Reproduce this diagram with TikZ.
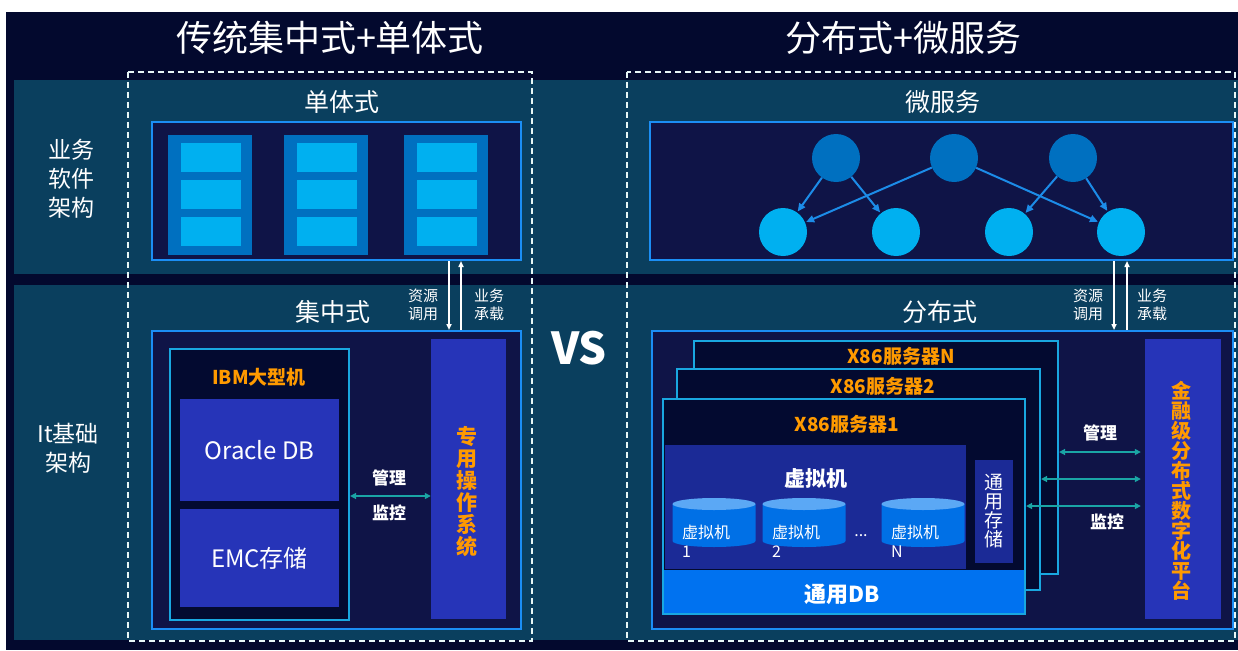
\documentclass[tikz,border=0pt]{standalone}
\usepackage{fontspec}
\usepackage{xcolor}
\usepackage{tikz}
\usetikzlibrary{arrows.meta}
\newfontfamily\cjk{Noto Sans CJK SC}

\definecolor{bgnavy}{HTML}{03092E}
\definecolor{band}{HTML}{0A3F5E}
\definecolor{panel}{HTML}{0F1447}
\definecolor{edge}{HTML}{1B8EF5}
\definecolor{edgecyan}{HTML}{19A7E0}
\definecolor{hostfill}{HTML}{030A30}
\definecolor{deepblue}{HTML}{0070C0}
\definecolor{skyblue}{HTML}{00B0F0}
\definecolor{indigo}{HTML}{2634B8}
\definecolor{orangetxt}{HTML}{FF9A00}
\definecolor{tealarrow}{HTML}{1AA5A5}
\definecolor{linkblue}{HTML}{1C8CE8}
\definecolor{vmarea}{HTML}{1B2A96}
\definecolor{dbblue}{HTML}{0072F0}
\definecolor{cylbody}{HTML}{0070E6}
\definecolor{cyltop}{HTML}{5BA8F5}
\definecolor{dashline}{HTML}{E6F6F6}

\tikzset{
  every node/.style={text=white, inner sep=0pt, font=\cjk},
  fs/.style 2 args={font=\cjk\fontsize{#1}{#2}\selectfont},
  fsb/.style 2 args={font=\cjk\bfseries\fontsize{#1}{#2}\selectfont},
  title/.style={fs={36}{40}},
  head/.style={fs={25}{28}},
  side/.style={fs={23}{29}, align=center},
  tiny/.style={fs={15}{18}, align=center},
  orangebold/.style={fsb={19}{22}, text=orangetxt, align=center},
  panelbox/.style={draw=edge, line width=2pt, fill=panel},
  hostbox/.style={draw=edgecyan, line width=2.2pt, fill=hostfill},
  slab/.style={fill=indigo},
  svc/.style={circle, minimum size=48pt},
  frame/.style={draw=dashline, line width=1.6pt, dash pattern=on 6pt off 4pt},
  flow/.style={draw=white, line width=1.6pt, -{Triangle[length=6pt,width=5pt]}},
  ctl/.style={draw=tealarrow, line width=1.8pt, {Triangle[length=6pt,width=6pt]}-{Triangle[length=6pt,width=6pt]}},
  link/.style={draw=linkblue, line width=2pt, -{Triangle[length=8pt,width=7pt]}, shorten >=1pt}
}

\begin{document}
\begin{tikzpicture}[x=1pt,y=-1pt]
\useasboundingbox (0,0) rectangle (1238,650);
\fill[white] (0,0) rectangle (1238,650);
\fill[bgnavy] (6,12) rectangle (1238,650);
\fill[band] (14,80) rectangle (1238,274);
\fill[band] (14,285) rectangle (1238,640);
\draw[frame] (128,72) rectangle (532,641);
\draw[frame] (627,72) rectangle (1235,641);

\node[title] (tradTitle) at (330,38) {传统集中式+单体式};
\node[title] (distTitle) at (903,38) {分布式+微服务};
\node[side] (swLabel) at (71,179) {业务\\软件\\架构};
\node[side] (itLabel) at (68,448) {It基础\\架构};

\node[head] (monoHead) at (342,102) {单体式};
\node[panelbox, minimum width=369, minimum height=138] (mono) at (336.5,191) {};
\foreach \cx [count=\i] in {210,326,446}{
  \node[fill=deepblue, minimum width=84, minimum height=120] (col\i) at (\cx,195) {};
  \foreach \cy [count=\j] in {157,194.5,231}
    \node[fill=skyblue, minimum width=60, minimum height=29] (cell\i\j) at (\cx+1,\cy) {};
}

\node[head] (centHead) at (333,312) {集中式};
\node[tiny] (callTxtL) at (423,305) {资源\\调用};
\node[tiny] (loadTxtL) at (489,305) {业务\\承载};
\node[panelbox, minimum width=369, minimum height=298] (central) at (336.5,480) {};
\coordinate (callL) at (449,0);
\coordinate (loadL) at (461,0);
\draw[flow] (mono.south -| callL) -- (central.north -| callL);
\draw[flow] (central.north -| loadL) -- (mono.south -| loadL);

\node[hostbox, minimum width=179, minimum height=271] (ibm) at (259.5,484.5) {};
\node[orangebold] (ibmHead) at (259,377) {IBM大型机};
\node[slab, minimum width=159, minimum height=102, fs={24}{28}] (oracle) at (259.5,450) {Oracle DB};
\node[slab, minimum width=159, minimum height=98, fs={24}{28}] (emc) at (259.5,558) {EMC存储};
\node[slab, minimum width=75, minimum height=280] (os) at (468.5,479) {};
\node[orangebold, fsb={21}{22}] (osText) at (467,492) {专\\用\\操\\作\\系\\统};
\coordinate (ctlRow) at (0,496);
\draw[ctl] (ibm.east |- ctlRow) -- (os.west |- ctlRow);
\node[fsb={17}{20}] (mgrL) at (389,478) {管理};
\node[fsb={17}{20}] (monL) at (389,513) {监控};
\node[fsb={44}{48}] (vs) at (579,348) {VS};

\node[head] (msHead) at (943,102) {微服务};
\node[panelbox, minimum width=583, minimum height=138] (micro) at (941.5,191) {};
\foreach \cx [count=\i] in {836,954,1073}
  \node[svc, fill=deepblue] (up\i) at (\cx,158) {};
\foreach \cx [count=\i] in {783,896,1009,1121}
  \node[svc, fill=skyblue] (dn\i) at (\cx,232) {};
\foreach \a/\b in {1/1,1/2,2/1,2/4,3/3,3/4}
  \draw[link] (up\a) -- (dn\b);

\node[head] (distHead) at (940,312) {分布式};
\node[tiny] (callTxtR) at (1088,305) {资源\\调用};
\node[tiny] (loadTxtR) at (1152,305) {业务\\承载};
\node[panelbox, minimum width=581, minimum height=298] (dist) at (942.5,480) {};
\coordinate (callR) at (1114,0);
\coordinate (loadR) at (1127,0);
\draw[flow] (micro.south -| callR) -- (dist.north -| callR);
\draw[flow] (dist.north -| loadR) -- (micro.south -| loadR);

\node[hostbox, minimum width=364, minimum height=233] (servN) at (876,457.5) {};
\node[orangebold] (servNHead) at (901,356) {X86服务器N};
\node[hostbox, minimum width=363, minimum height=221] (serv2) at (858.5,479.5) {};
\node[orangebold] (serv2Head) at (883,386) {X86服务器2};
\node[hostbox, minimum width=362, minimum height=215] (serv1) at (844,506.5) {};
\node[orangebold] (serv1Head) at (847,424) {X86服务器1};
\node[fill=vmarea, minimum width=301, minimum height=124] (vms) at (815.5,507) {};
\node[fsb={21}{24}] (vmHead) at (816,479) {虚拟机};
\foreach \cx/\num in {714/1,804/2,923/N}{
  \fill[cylbody] (\cx-41.5,504) -- (\cx-41.5,541) arc[start angle=180, end angle=0, x radius=41.5, y radius=6] -- (\cx+41.5,504) -- cycle;
  \fill[cyltop] (\cx,504) ellipse[x radius=41.5, y radius=6];
  \node[fs={16}{19}, align=left, anchor=west] (vm\num) at (\cx-32,541.5) {虚拟机\\\num};
}
\node[fs={16}{19}] (vmDots) at (861,536) {...};
\node[fill=vmarea, minimum width=38, minimum height=103, fs={19}{19}, align=center] (store) at (994,511.5) {通\\用\\存\\储};
\node[fill=dbblue, minimum width=360, minimum height=43] (db) at (844,591.5) {};
\node[fsb={22}{24}] (dbText) at (842,594) {通用DB};

\node[slab, minimum width=76, minimum height=280] (plat) at (1183,479) {};
\node[orangebold, fsb={20}{20}] (platText) at (1181,491) {金\\融\\级\\分\\布\\式\\数\\字\\化\\平\\台};
\coordinate (rowA) at (0,452);
\coordinate (rowB) at (0,479);
\coordinate (rowC) at (0,506);
\draw[ctl, shorten >=4pt] (servN.east |- rowA) -- (plat.west |- rowA);
\draw[ctl, shorten >=4pt] (serv2.east |- rowB) -- (plat.west |- rowB);
\draw[ctl, shorten >=4pt] (serv1.east |- rowC) -- (plat.west |- rowC);
\node[fsb={17}{20}] (mgrR) at (1100,433) {管理};
\node[fsb={17}{20}] (monR) at (1107,522) {监控};
\end{tikzpicture}
\end{document}
